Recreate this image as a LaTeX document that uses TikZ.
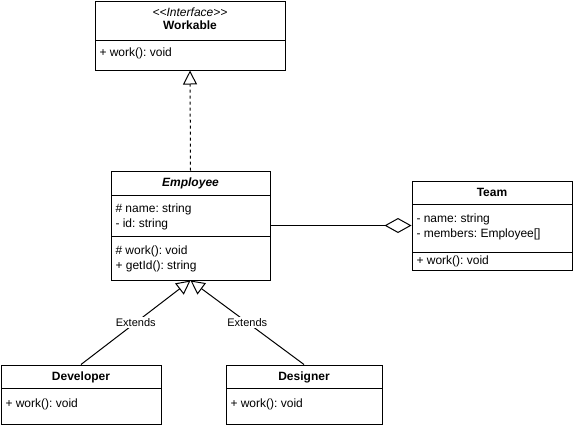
\documentclass[tikz,border=0pt]{standalone}
\usepackage{fontspec}
\setmainfont{Liberation Sans}
\usetikzlibrary{arrows.meta}
\usetikzlibrary{calc}

\begin{document}
\frenchspacing
\begin{tikzpicture}[
    x=1pt, y=-1pt,
    line width=1pt,
    class box/.style={draw,inner sep=0pt},
    head text/.style={anchor=base,inner sep=0pt,font=\fontsize{12}{14}\selectfont\bfseries},
    member/.style={anchor=base west,inner sep=0pt,font=\fontsize{12}{14}\selectfont},
    edge label/.style={fill=white,inner sep=1pt,font=\fontsize{11}{13}\selectfont},
    realize link/.style={dashed,dash pattern=on 3pt off 3pt,-{Triangle[open,length=14pt,width=14pt]}},
    extend link/.style={-{Triangle[open,length=14pt,width=14pt]}},
    aggregate link/.style={-{Diamond[open,length=27pt,width=15pt]}}
    ]
    \useasboundingbox (0,0) rectangle (573,426);
    % nodes
    % Workable
    \node [class box,minimum width=190pt,minimum height=69pt] (workable) at (190,35.5) {};
    \draw (95,40) -- (285,40);
    \node [head text,font=\fontsize{12}{14}\selectfont\itshape] (workablest) at (190,16.7) {<{}<Interface>{}>};
    \node [head text] (workablename) at (190,29.5) {Workable};
    \node [member] (workablem1) at (99,56) {+ work(): void};
    % Employee
    \node [class box,minimum width=159pt,minimum height=109pt] (employee) at (190.5,225.5) {};
    \draw (111,195) -- (270,195);
    \draw (111,236) -- (270,236);
    \node [head text,font=\fontsize{12}{14}\selectfont\bfseries\itshape] (employeename) at (190.5,186) {Employee};
    \node [member] (employeea1) at (115,212) {\# name: string};
    \node [member] (employeea2) at (115,227) {- id: string};
    \node [member] (employeem1) at (115,254.5) {\# work(): void};
    \node [member] (employeem2) at (115,269.5) {+ getId(): string};
    % Team
    \node [class box,minimum width=160pt,minimum height=89pt] (team) at (492,225.5) {};
    \draw (412,204) -- (572,204);
    \draw (412,252) -- (572,252);
    \node [head text] (teamname) at (492,196.5) {Team};
    \node [member] (teama1) at (416,222.5) {- name: string};
    \node [member] (teama2) at (416,237.5) {- members: Employee[]};
    \node [member] (teamm1) at (416,264.5) {+ work(): void};
    % Developer
    \node [class box,minimum width=160pt,minimum height=59pt] (developer) at (81,394.5) {};
    \draw (1,388) -- (161,388);
    \node [head text] (developername) at (81,380) {Developer};
    \node [member] (developerm1) at (5,407.5) {+ work(): void};
    % Designer
    \node [class box,minimum width=156pt,minimum height=59pt] (designer) at (304,394.5) {};
    \draw (226,388) -- (382,388);
    \node [head text] (designername) at (304,380) {Designer};
    \node [member] (designerm1) at (230,407.5) {+ work(): void};
    % arcs
    % employee - workable
    \draw [realize link] (employee.north) -- (workable.south);
    % developer - employee
    \draw [extend link] (developer.north) -- node [edge label] {Extends} (employee.south);
    % designer - employee
    \draw [extend link] (designer.north) -- node [edge label] {Extends} (employee.south);
    % employee - team
    \draw [aggregate link] (employee.east) -- (team.west);
\end{tikzpicture}
\end{document}
